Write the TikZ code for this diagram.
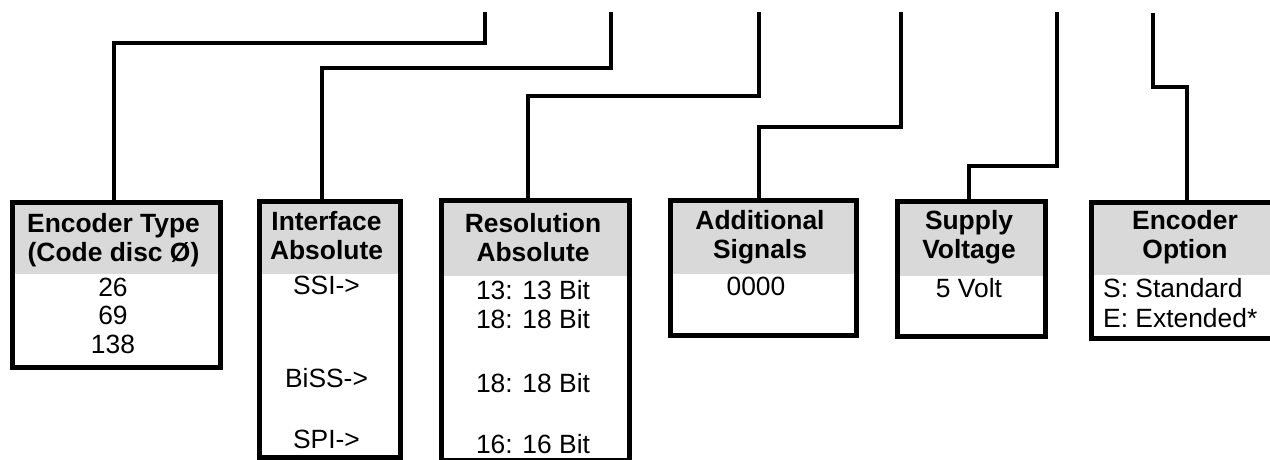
\documentclass[tikz,border=0pt]{standalone}
\usepackage{fontspec}
\setmainfont{Liberation Sans}
\definecolor{hdr}{RGB}{217,217,217}
\begin{document}
\begin{tikzpicture}[x=1pt,y=-1pt,
  conn/.style={line width=4pt, line join=miter},
  hbox/.style={draw, line width=5pt, anchor=north west, inner sep=0pt,
    path picture={\fill[hdr] (path picture bounding box.north west) rectangle ([yshift=-#1pt]path picture bounding box.north east);}},
  htxt/.style={anchor=base, inner sep=0pt, font=\fontsize{26.4}{28}\selectfont\bfseries},
  btxt/.style={anchor=base, inner sep=0pt, font=\fontsize{26.4}{28}\selectfont},
  ltxt/.style={anchor=base west, inner sep=0pt, font=\fontsize{26.4}{28}\selectfont}]
\useasboundingbox (0,0) rectangle (1270,460);
\clip (0,0) rectangle (1270,460);
% boxes
\node[hbox=71.5, minimum width=208pt, minimum height=165pt] (b1) at (9.5,199.5) {};
\node[hbox=72, minimum width=141pt, minimum height=256pt] (b2) at (256.5,199) {};
\node[hbox=75, minimum width=188pt, minimum height=260pt] (b3) at (439,198) {};
\node[hbox=73, minimum width=186pt, minimum height=135pt] (b4) at (668,198) {};
\node[hbox=74, minimum width=148pt, minimum height=135pt] (b5) at (895,199) {};
\node[hbox=72, minimum width=194pt, minimum height=136pt] (b6) at (1089,200) {};
% texts box 1
\node[htxt] (h1a) at (113.5,232) {Encoder Type};
\node[htxt] (h1b) at (113.5,261) {(Code disc Ø)};
\node[btxt] (v1a) at (113,296) {26};
\node[btxt] (v1b) at (113,324.5) {69};
\node[btxt] (v1c) at (113,353) {138};
% box 2
\node[htxt] (h2a) at (326.5,230) {Interface};
\node[htxt] (h2b) at (326.5,259) {Absolute};
\node[btxt] (v2a) at (326.5,294.5) {SSI->};
\node[btxt] (v2b) at (326.5,387) {BiSS->};
\node[btxt] (v2c) at (326.5,448) {SPI->};
% box 3
\node[htxt] (h3a) at (533,232) {Resolution};
\node[htxt] (h3b) at (533,261) {Absolute};
\node[btxt] (v3a) at (533,299) {13: 13 Bit};
\node[btxt] (v3b) at (533,328) {18: 18 Bit};
\node[btxt] (v3c) at (533,392) {18: 18 Bit};
\node[btxt] (v3d) at (533,453) {16: 16 Bit};
% box 4
\node[htxt] (h4a) at (760,229) {Additional};
\node[htxt] (h4b) at (760,258) {Signals};
\node[btxt] (v4a) at (756,295) {0000};
% box 5
\node[htxt] (h5a) at (969,229) {Supply};
\node[htxt] (h5b) at (969,258) {Voltage};
\node[btxt] (v5a) at (969,297) {5 Volt};
% box 6
\node[htxt] (h6a) at (1185,229) {Encoder};
\node[htxt] (h6b) at (1185,258) {Option};
\node[ltxt] (v6a) at (1103,297) {S: Standard};
\node[ltxt] (v6b) at (1103,327) {E: Extended*};
% connectors
\coordinate (t1) at (485,12);  \coordinate (k1) at (114,43);
\coordinate (t2) at (611,12);  \coordinate (k2) at (322,68);
\coordinate (t3) at (759,12);  \coordinate (k3) at (528,96);
\coordinate (t4) at (901,12);  \coordinate (k4) at (759,127);
\coordinate (t5) at (1057,12); \coordinate (k5) at (969,166);
\coordinate (t6) at (1153,13); \coordinate (k6) at (1187,87.5);
\draw[conn] (t1) |- (k1) -- (k1 |- b1.north);
\draw[conn] (t2) |- (k2) -- (k2 |- b2.north);
\draw[conn] (t3) |- (k3) -- (k3 |- b3.north);
\draw[conn] (t4) |- (k4) -- (k4 |- b4.north);
\draw[conn] (t5) |- (k5) -- (k5 |- b5.north);
\draw[conn] (t6) |- (k6) -- (k6 |- b6.north);
\end{tikzpicture}
\end{document}
